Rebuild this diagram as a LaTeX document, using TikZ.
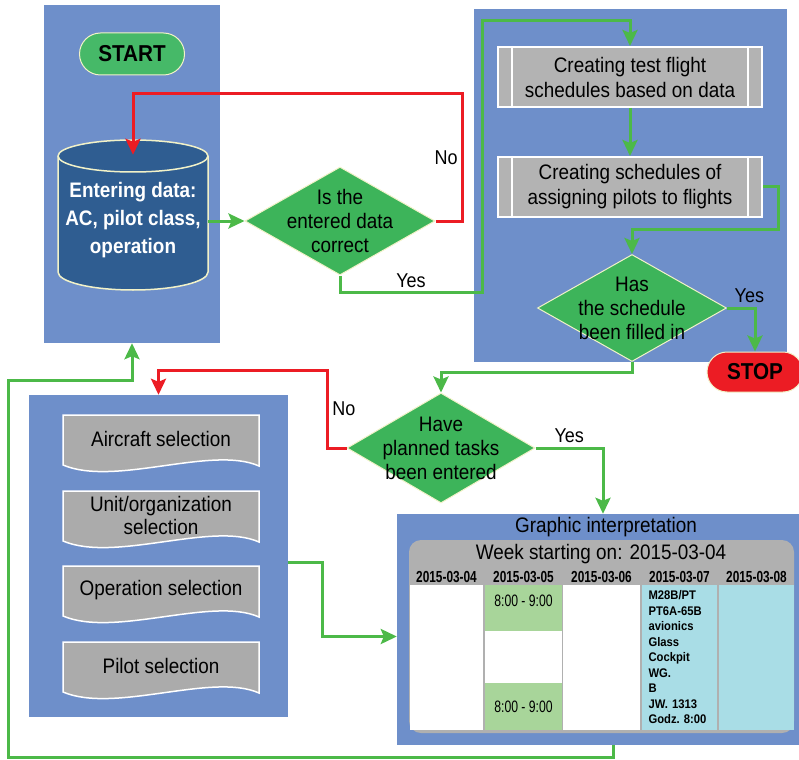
\documentclass[tikz,border=0pt]{standalone}
\usepackage{fontspec}
\setmainfont{Liberation Sans}[FakeStretch=0.9]
\newfontfamily\narrowfont{Liberation Sans}[FakeStretch=0.74]
\usetikzlibrary{positioning,shapes.geometric,shapes.misc,arrows.meta}

\definecolor{panelblue}{HTML}{6E8FCA}
\definecolor{dbblue}{HTML}{2F5D91}
\definecolor{decgreen}{HTML}{3DB45A}
\definecolor{termgreen}{HTML}{46B968}
\definecolor{lgreen}{HTML}{4CB948}
\definecolor{stopred}{HTML}{EC1C24}
\definecolor{boxgray}{HTML}{B3B3B3}
\definecolor{docgray}{HTML}{ABABAB}
\definecolor{hdrgray}{HTML}{B0B0B0}
\definecolor{cellgreen}{HTML}{A8D59A}
\definecolor{cellcyan}{HTML}{A9DDE6}
\definecolor{cream}{HTML}{F2F2C8}

\begin{document}
\begin{tikzpicture}[x=1pt, y=-1pt,
    panel/.style={rectangle, fill=panelblue, inner sep=0pt},
    pill/.style={rounded rectangle, draw=cream, line width=1pt, inner sep=0pt,
                 font=\bfseries\fontsize{23}{25}\selectfont},
    storebox/.style={fill=dbblue, draw=cream, line width=1.5pt},
    store/.style={rectangle, text=white, align=center, inner sep=0pt,
                  minimum width=150pt, minimum height=150pt,
                  font=\bfseries\fontsize{21}{28}\selectfont},
    decision/.style={diamond, fill=decgreen, draw=cream, line width=1pt, inner sep=0pt},
    dtext/.style={align=center, font=\fontsize{21}{24}\selectfont},
    proc/.style={rectangle, fill=boxgray, draw=white, line width=2pt, inner sep=0pt,
                 minimum width=264pt, minimum height=60pt, align=center,
                 font=\fontsize{21}{25}\selectfont},
    docbox/.style={fill=docgray, draw=white, line width=1.5pt},
    doctext/.style={align=center, inner sep=0pt, font=\fontsize{21}{23}\selectfont},
    cell/.style={rectangle, inner sep=0pt},
    lbl/.style={font=\fontsize{20}{22}\selectfont},
    yes/.style={draw=lgreen, line width=3pt, -{Stealth[length=16pt,width=15pt,inset=3pt]}},
    no/.style={draw=stopred, line width=3pt, -{Stealth[length=16pt,width=15pt,inset=3pt]}}]

\useasboundingbox (0,0) rectangle (799,759);

% panels
\node[panel, minimum width=176pt, minimum height=338pt] (pInput) at (132,174) {};
\node[panel, minimum width=313pt, minimum height=353pt] (pSched) at (630.5,185.5) {};
\node[panel, minimum width=259pt, minimum height=322pt] (pSelect) at (158.5,556) {};
\node[panel, minimum width=402pt, minimum height=231pt] (pGraph) at (598,629.5) {};

% input part
\node[pill, fill=termgreen, minimum width=105pt, minimum height=42pt] (start) at (132,54) {START};
\path[storebox] (58,156) -- (58,272) arc[start angle=180, end angle=0, x radius=75, y radius=18]
      -- (208,156) arc[start angle=0, end angle=-180, x radius=75, y radius=16] -- cycle;
\draw[cream, line width=1.5pt] (58,156) arc[start angle=180, end angle=0, x radius=75, y radius=16];
\node[store] (cyl) at (133,220) {Entering data:\\AC, pilot class,\\operation};
\node[decision, minimum width=190pt, minimum height=108pt,
      label={[dtext]center:{Is the\\entered data\\correct}}] (d1) at (340,221) {};

% schedules
\node[proc] (b1) at (630,77) {Creating test flight\\schedules based on data};
\node[proc] (b2) at (630,187) {Creating schedules of\\assigning pilots to flights};
\foreach \b in {b1,b2}
  \draw[white, line width=1.5pt] ([xshift=15pt]\b.north west) -- ([xshift=15pt]\b.south west)
        ([xshift=-15pt]\b.north east) -- ([xshift=-15pt]\b.south east);
\node[decision, minimum width=189pt, minimum height=107pt,
      label={[dtext]center:{Has\\the schedule\\been filled in}}] (d2) at (632,308) {};
\node[pill, fill=stopred, minimum width=96pt, minimum height=40pt] (stop) at (755,372) {STOP};

\node[decision, minimum width=188pt, minimum height=110pt,
      label={[dtext]center:{Have\\planned tasks\\been entered}}] (d3) at (441,448) {};

% selections
\foreach \n/\y/\t in {air/415/Aircraft selection, unit/491/{Unit/organization\\selection},
                      oper/566/Operation selection, pilot/642/Pilot selection}{
  \path[docbox] (63,\y) -- (259,\y) -- (259,\y+51) .. controls (212,\y+30) and (115,\y+72) .. (63,\y+50) -- cycle;
  \node[doctext] (\n) at (161,\y+24) {\t};
}

% graphic interpretation
\node[font=\fontsize{21}{23}\selectfont] (gtitle) at (606,527) {Graphic interpretation};
\node[rectangle, fill=hdrgray, rounded corners=12pt, minimum width=385pt, minimum height=193pt] (week) at (601.5,636.5) {};
\node[font=\fontsize{21}{23}\selectfont] (wtitle) at (601,554) {Week starting on: 2015-03-04};
\foreach \d/\x in {04/446.5, 05/523.5, 06/601.5, 07/679.5, 08/756.5}
  \node[font=\narrowfont\bfseries\fontsize{16}{18}\selectfont] (h\d) at (\x,577) {2015-03-\d};
\node[cell, fill=white, minimum width=73pt, minimum height=145pt] (c1) at (446.5,657.5) {};
\node[cell, fill=cellgreen, minimum width=77pt, text height=21pt, text depth=25pt,
      font=\narrowfont\fontsize{16.5}{18}\selectfont] (c2a) at (523.5,608) {8:00 - 9:00};
\node[cell, fill=white, minimum width=77pt, minimum height=52pt] (c2b) at (523.5,657) {};
\node[cell, fill=cellgreen, minimum width=77pt, minimum height=47pt,
      font=\narrowfont\fontsize{16.5}{18}\selectfont] (c2c) at (523.5,706.5) {8:00 - 9:00};
\node[cell, fill=white, minimum width=77pt, minimum height=145pt] (c3) at (601.5,657.5) {};
\node[cell, fill=cellcyan, minimum width=75pt, minimum height=145pt, text width=62pt,
      align=left, font=\frenchspacing\bfseries\fontsize{12.5}{15.5}\selectfont] (c4) at (679.5,657.5)
      {M28B/PT\\PT6A-65B\\avionics\\Glass\\Cockpit\\WG.\\B\\JW. 1313\\Godz. 8:00};
\node[cell, fill=cellcyan, minimum width=75pt, minimum height=145pt] (c5) at (756.5,657.5) {};

% connectors
\draw[yes] (cyl.east |- d1.west) -- (d1.west);
\draw[no] (d1.east) -| ++(27,-127) node[pos=0.75, left, lbl] {No} -| ([yshift=-10pt]cyl.north);
\draw[yes] (d1.south) -- ++(0,17) -| ++(142,-272) node[pos=0.25, above, lbl] {Yes} -| (b1.north);
\draw[yes] (b1.south) -- (b2.north);
\draw[yes] (b2.east) -- ++(15,0) |- ([yshift=25pt]d2.north) -- (d2.north);
\draw[yes] (d2.east) -| (stop.north) node[pos=0.4, above, lbl] {Yes};
\draw[yes] (d2.south) -- ++(0,10) -| (d3.north);
\draw[no] (d3.west) -| ++(-19,-78) node[pos=0.75, right, lbl] {No} -| (pSelect.north);
\draw[yes] (d3.east) -| ([xshift=5pt]pGraph.north) node[pos=0.25, above, lbl] {Yes};
\draw[yes] ([yshift=-6pt]pSelect.east) -- ++(34,0) |- ([yshift=-7pt]pGraph.west);
\draw[yes] ([xshift=15pt]pGraph.south) -- ++(0,12) -| ++(-605,-377) -| (pInput.south);
\end{tikzpicture}
\end{document}
